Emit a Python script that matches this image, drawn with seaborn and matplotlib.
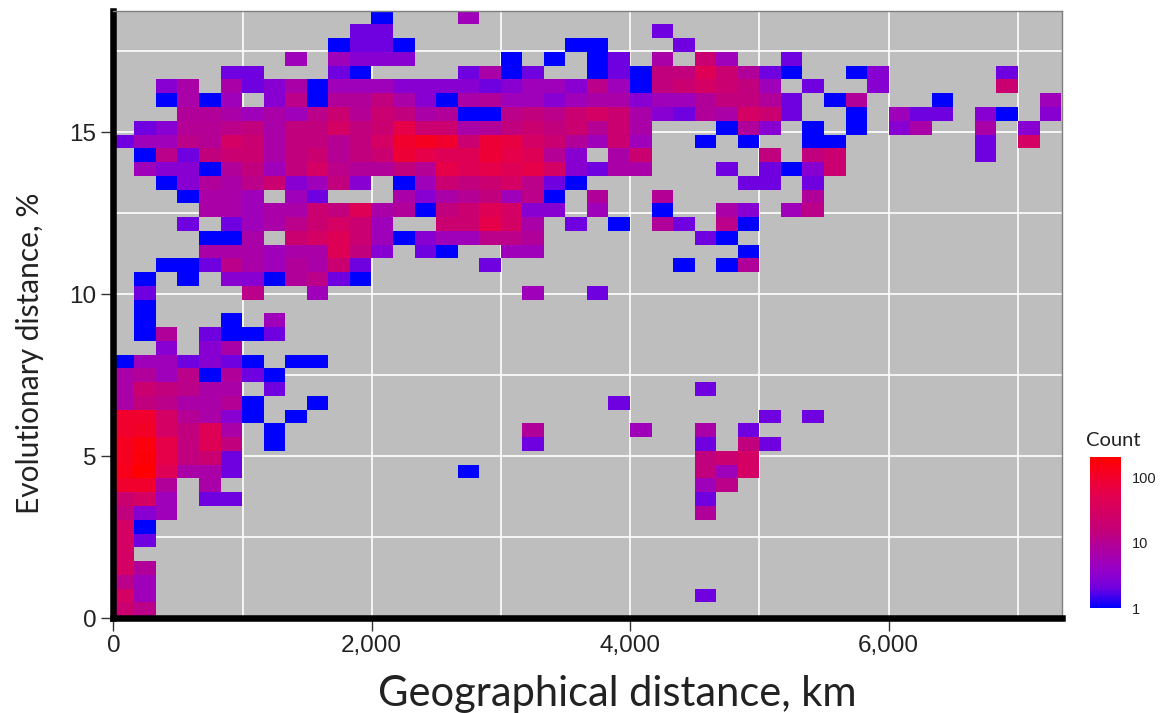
import numpy as np
import seaborn as sns
import matplotlib.pyplot as plt
from matplotlib.colors import LinearSegmentedColormap, LogNorm

# counts per bin, top row first, left column first (short rows are padded with empty bins)
row_00 = [0,0,0,0,0, 0,0,0,0,0, 0,0,1,0,0, 0,5]
row_01 = [0,0,0,0,0, 0,0,0,0,0, 0,2,2,0,0, 0,0,0,0,0, 0,0,0,0,0, 2]
row_02 = [0,0,0,0,0, 0,0,0,0,0, 1,2,2,1,0, 0,0,0,0,0, 0,1,1,0,0, 0,2]
row_03 = [0,0,0,0,0, 0,0,0,5,0, 5,3,3,3,0, 0,0,0,1,0, 1,0,1,2,0, 7,0,20,5,0, 0,2]
row_04 = [0,0,0,0,0, 2,2,0,0,0, 2,1,0,0,0, 0,2,7,1,2, 0,0,1,2,1, 14,14,45,20,9, 2,1,0,0,1, 3,0,0,0,0, 0,2]
row_05 = [0,0,3,7,0, 7,2,3,7,1, 5,5,5,3,3, 3,3,2,3,5, 5,3,12,5,1, 14,20,30,20,14, 5,0,2,0,0, 3,0,0,0,0, 0,20]
row_06 = [0,0,1,7,1, 5,0,3,12,1, 9,9,14,7,3, 1,7,9,5,5, 3,5,7,7,3, 5,5,9,14,14, 9,2,0,1,9, 0,0,0,1,0, 0,0,0,5]
row_07 = [0,0,0,9,9, 7,5,7,5,12, 20,10,20,14,7, 9,1,1,12,14, 12,20,30,20,7, 3,2,9,7,30, 20,2,0,0,1, 0,5,2,2,0, 3,1,0,3]
row_08 = [0,2,3,10,10, 12,14,7,14,14, 30,14,20,60,20, 20,7,9,14,20, 14,20,10,20,7, 0,0,0,1,9, 3,0,1,0,1, 0,3,7,0,0, 7,0,3]
row_09 = [2,5,5,12,10, 30,20,7,14,14, 10,14,30,100,125, 100,20,85,70,30, 20,9,5,20,5, 0,0,1,0,1, 0,0,1,1,0, 0,0,0,0,0, 2,0,30]
row_10 = [0,1,12,2,14, 20,20,7,14,20, 10,14,20,85,60, 45,45,85,60,45, 10,3,0,7,20, 0,0,0,0,0, 14,0,14,20,0, 0,0,0,0,0, 2]
row_11 = [0,5,3,3,1, 9,14,5,14,30, 12,9,9,14,10, 60,45,60,45,60, 30,3,2,7,7, 0,0,0,2,0, 2,1,3,20]
row_12 = [0,0,1,3,9, 7,12,20,3,5, 14,3,0,1,5, 20,14,20,30,12, 2,1,0,0,0, 0,0,0,0,2, 2,0,2]
row_13 = [0,0,0,1,7, 7,5,0,5,2, 0,0,0,7,3, 7,10,14,5,12, 1,0,9,0,0, 10,0,0,0,0, 0,0,9]
row_14 = [0,0,0,0,7, 7,5,7,7,20, 14,45,7,9,1, 14,20,45,30,3, 3,0,5,0,0, 1,0,0,7,3, 0,5,12]
row_15 = [0,0,0,2,0, 2,5,7,12,20, 30,20,5,0,0, 20,20,60,30,7, 0,2,0,1,0, 9,2,0,12,1]
row_16 = [0,0,0,0,1, 1,7,0,20,30, 45,20,5,1,3, 5,5,12,12,9, 0,0,0,0,0, 0,0,2,1]
row_17 = [0,0,0,0,7, 7,7,5,7,7, 45,14,3,0,2, 1,0,0,5,5, 0,0,0,0,0, 0,0,0,0,1]
row_18 = [0,0,1,1,2, 12,7,5,9,7, 20,2,0,0,0, 0,0,2,0,0, 0,0,0,0,0, 0,1,0,1,9]
row_19 = [0,1,0,1,0, 3,3,1,9,12, 2,1]
row_20 = [0,2,0,0,0, 0,12,0,0,5, 0,0,0,0,0, 0,0,0,0,5, 0,0,2]
row_21 = [0,1]
row_22 = [0,1,0,0,0, 1,0,5]
row_23 = [0,1,9,0,2, 1,1,2]
row_24 = [0,0,3,0,3, 7]
row_25 = [1,5,5,2,3, 2,1,0,1,1]
row_26 = [7,9,5,12,1, 9,2,1]
row_27 = [7,20,14,12,7, 7,0,2,0,0, 0,0,0,0,0, 0,0,0,0,0, 0,0,0,0,0, 0,0,2]
row_28 = [7,14,12,7,7, 10,1,0,0,1, 0,0,0,0,0, 0,0,0,0,0, 0,0,0,2]
row_29 = [100,100,30,10,7, 3,1,0,1,0, 0,0,0,0,0, 0,0,0,0,0, 0,0,0,0,0, 0,0,0,0,0, 2,0,2]
row_30 = [100,110,30,14,45, 7,0,1,0,0, 0,0,0,0,0, 0,0,0,0,9, 0,0,0,0,5, 0,0,7,0,2]
row_31 = [125,170,60,14,45, 14,0,1,0,0, 0,0,0,0,0, 0,0,0,0,2, 0,0,0,0,0, 0,0,2,0,14, 2]
row_32 = [125,180,60,14,20, 2,0,0,0,0, 0,0,0,0,0, 0,0,0,0,0, 0,0,0,0,0, 0,0,14,20,30]
row_33 = [140,210,45,7,7, 2,0,0,0,0, 0,0,0,0,0, 0,1,0,0,0, 0,0,0,0,0, 0,0,14,5,30]
row_34 = [100,100,9,0,7, 0,0,0,0,0, 0,0,0,0,0, 0,0,0,0,0, 0,0,0,0,0, 0,0,5,12]
row_35 = [20,30,5,0,2, 2,0,0,0,0, 0,0,0,0,0, 0,0,0,0,0, 0,0,0,0,0, 0,0,2]
row_36 = [14,3,5,0,0, 0,0,0,0,0, 0,0,0,0,0, 0,0,0,0,0, 0,0,0,0,0, 0,0,9]
row_37 = [30,1]
row_38 = [30,2]
row_39 = [30]
row_40 = [30,9]
row_41 = [12,5]
row_42 = [30,5,0,0,0, 0,0,0,0,0, 0,0,0,0,0, 0,0,0,0,0, 0,0,0,0,0, 0,0,2]
row_43 = [20,12]

rows = [row_00, row_01, row_02, row_03, row_04, row_05, row_06, row_07, row_08, row_09, row_10,
        row_11, row_12, row_13, row_14, row_15, row_16, row_17, row_18, row_19, row_20, row_21,
        row_22, row_23, row_24, row_25, row_26, row_27, row_28, row_29, row_30, row_31, row_32,
        row_33, row_34, row_35, row_36, row_37, row_38, row_39, row_40, row_41, row_42, row_43]

x_labelled = [0, 2000, 4000, 6000]
x_minor = [1000, 3000, 5000, 7000]
y_labelled = [0, 5, 10, 15]
y_minor = [2.5, 7.5, 12.5, 17.5]
legend_ticks = [1, 10, 100]

km_per_bin = 166.8
pct_per_bin = 0.425
y_top = 18.76

counts = np.zeros((44, 44))
for i, row in enumerate(rows):
    counts[i, :len(row)] = row

sns.set_style("white")
W, H = 1162, 713
fig = plt.figure(figsize=(W / 100, H / 100), dpi=100)
ax = fig.add_axes([112.8 / W, 1 - 618 / H, (1061.5 - 112.8) / W, (618 - 10.7) / H])
cax = fig.add_axes([1090 / W, 1 - 608 / H, 31 / W, 151 / H])

cmap = LinearSegmentedColormap.from_list("bluered", [
    (0.0, "#0000FF"), (0.13, "#7000E0"), (0.25, "#9600C8"), (0.43, "#B40095"),
    (0.5, "#C2007B"), (0.75, "#E3004E"), (0.87, "#F2002B"), (1.0, "#FF0000")])

sns.heatmap(counts, mask=counts == 0, cmap=cmap, norm=LogNorm(1, 210), ax=ax, cbar_ax=cax,
            xticklabels=False, yticklabels=False)

def to_col(km):
    return (np.array(km) + 4) / km_per_bin

def to_row(pct):
    return (y_top - np.array(pct)) / pct_per_bin

ax.set_facecolor("#BEBEBE")
ax.set_xlim(0, 44.02)
ax.set_ylim(44.1, 0)
ax.set_xticks(to_col(x_labelled), [f"{v:,}" for v in x_labelled])
ax.set_xticks(to_col(x_minor), minor=True)
ax.set_yticks(to_row(y_labelled), [str(v) for v in y_labelled], rotation=0)
ax.set_yticks(to_row(y_minor), minor=True)
ax.tick_params(which="major", bottom=True, left=True, length=9, width=1, color="#333333", pad=3,
               labelsize=17.5, labelcolor="#222222", labelfontfamily="Liberation Sans")
ax.tick_params(which="minor", length=0)
ax.grid(True, which="both", color="white", lw=1.2)
ax.set_axisbelow(True)

for side in ["left", "bottom"]:
    ax.spines[side].set_visible(True)
    ax.spines[side].set_color("black")
    ax.spines[side].set_linewidth(4.7)
for side in ["top", "right"]:
    ax.spines[side].set_visible(True)
    ax.spines[side].set_color("#808080")
    ax.spines[side].set_linewidth(1)

fig.text(617 / W, 1 - 694 / H, "Geographical distance, km", family="Lato", fontsize=30,
         ha="center", va="center", color="#222222")
fig.text(30 / W, 1 - 353 / H, "Evolutionary distance, %", family="Lato", fontsize=21.5,
         rotation=90, ha="center", va="center", color="#222222")

cax.set_yticks(legend_ticks, [str(v) for v in legend_ticks])
cax.minorticks_off()
cax.tick_params(axis="y", which="major", left=True, right=True, direction="in", length=6,
                width=1, color="white", labelright=True, labelleft=False, pad=8,
                labelsize=10.5, labelcolor="#222222", labelfontfamily="Liberation Sans")
for s in cax.spines.values():
    s.set_visible(False)
fig.text(1086 / W, 1 - 440 / H, "Count", family="Lato", fontsize=14.5, ha="left", va="center",
         color="#222222")

fig.savefig("out.png", dpi=100)
